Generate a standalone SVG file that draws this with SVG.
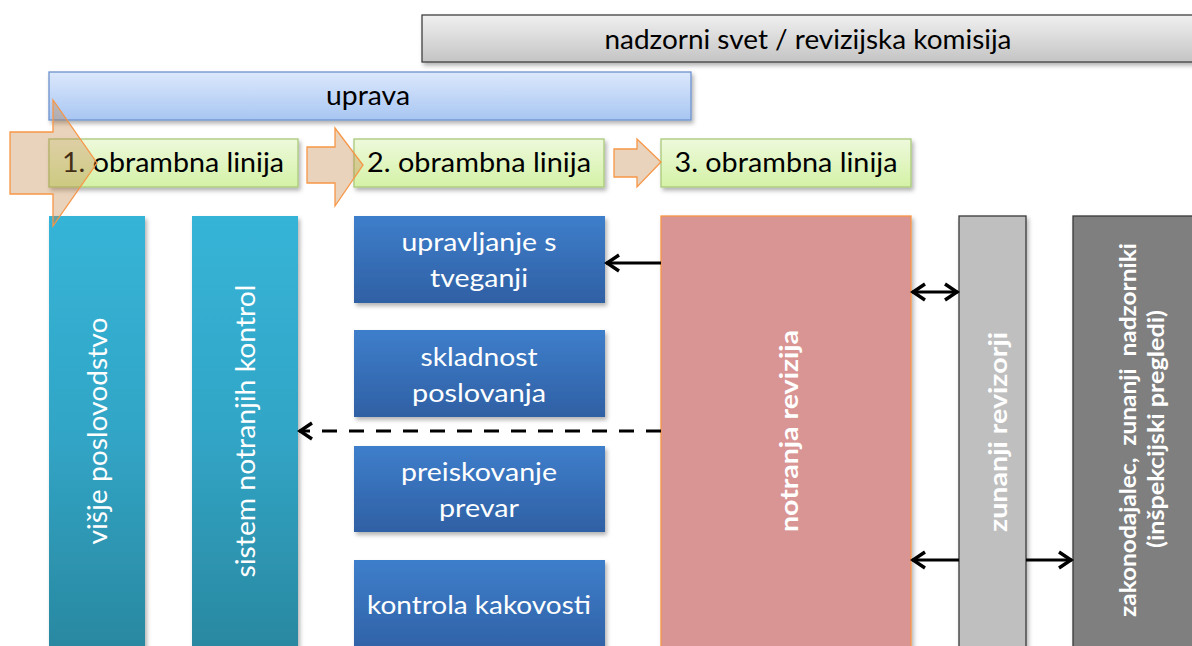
<svg xmlns="http://www.w3.org/2000/svg" width="1192" height="646" viewBox="0 0 1192 646">
<defs>
<style>
.t{font-family:Lato,"Open Sans","Liberation Sans",sans-serif;}
.dk{fill:#000;font-size:26px;}
.wh{fill:#fff;font-size:25px;}
.wb{fill:#fff;font-size:22px;font-weight:bold;}
.conn{stroke:#000;stroke-width:3;fill:none;}
.blk{stroke:#F79646;stroke-width:1.3;fill:#C0803F;fill-opacity:0.35;}
</style>
<linearGradient id="gGray" x1="0" y1="0" x2="0" y2="1"><stop offset="0" stop-color="#F0F0F0"/><stop offset="1" stop-color="#C4C4C4"/></linearGradient>
<linearGradient id="gBlueL" x1="0" y1="0" x2="0" y2="1"><stop offset="0" stop-color="#DCE8FC"/><stop offset="1" stop-color="#A8C6F2"/></linearGradient>
<linearGradient id="gGreen" x1="0" y1="0" x2="0" y2="1"><stop offset="0" stop-color="#EEF9DC"/><stop offset="1" stop-color="#D4F2A6"/></linearGradient>
<linearGradient id="gTeal" x1="0" y1="0" x2="0" y2="1"><stop offset="0" stop-color="#36B4D7"/><stop offset="0.5" stop-color="#31A5C6"/><stop offset="1" stop-color="#2A879F"/></linearGradient>
<linearGradient id="gBlue" x1="0" y1="0" x2="0" y2="1"><stop offset="0" stop-color="#3E7ECB"/><stop offset="1" stop-color="#2F60A4"/></linearGradient>
<filter id="sh" x="-10%" y="-10%" width="130%" height="130%"><feDropShadow dx="2" dy="3" stdDeviation="2" flood-color="#000" flood-opacity="0.3"/></filter>
<marker id="ah" viewBox="0 0 18 20" refX="16" refY="10" markerWidth="18" markerHeight="20" markerUnits="userSpaceOnUse" orient="auto-start-reverse">
<path d="M3,2 L15,10 L3,18" fill="none" stroke="#000" stroke-width="3.4" stroke-linejoin="miter"/>
</marker>
</defs>
<rect width="1192" height="646" fill="#fff"/>

<g id="nadzorni">
<rect x="422" y="15" width="790" height="47" fill="url(#gGray)" stroke="#404040" stroke-width="1.3" filter="url(#sh)"/>
<text class="t dk" x="808" y="49" text-anchor="middle" textLength="407" lengthAdjust="spacingAndGlyphs" style="font-size:27px">nadzorni svet / revizijska komisija</text>
</g>

<g id="uprava">
<rect x="49" y="72" width="642" height="48" fill="url(#gBlueL)" stroke="#6E93CC" stroke-width="1.3" filter="url(#sh)"/>
<text class="t dk" x="368" y="105" text-anchor="middle" textLength="84" lengthAdjust="spacingAndGlyphs">uprava</text>
</g>

<g id="linija1">
<rect x="49" y="139" width="249" height="48" fill="url(#gGreen)" stroke="#A9C97A" stroke-width="1.3" filter="url(#sh)"/>
<text class="t dk" x="173" y="172" text-anchor="middle" textLength="222" lengthAdjust="spacingAndGlyphs">1. obrambna linija</text>
</g>
<g id="linija2">
<rect x="354" y="139" width="250" height="48" fill="url(#gGreen)" stroke="#A9C97A" stroke-width="1.3" filter="url(#sh)"/>
<text class="t dk" x="479" y="172" text-anchor="middle" textLength="224" lengthAdjust="spacingAndGlyphs">2. obrambna linija</text>
</g>
<g id="linija3">
<rect x="661" y="139" width="250" height="48" fill="url(#gGreen)" stroke="#A9C97A" stroke-width="1.3" filter="url(#sh)"/>
<text class="t dk" x="786" y="172" text-anchor="middle" textLength="223" lengthAdjust="spacingAndGlyphs">3. obrambna linija</text>
</g>

<g id="visje">
<rect x="49" y="216" width="96" height="440" fill="url(#gTeal)" filter="url(#sh)"/>
<text class="t wh" transform="translate(97,431) rotate(-90)" text-anchor="middle" dominant-baseline="central" textLength="227" lengthAdjust="spacingAndGlyphs" style="font-size:26px">višje poslovodstvo</text>
</g>

<g id="sistem">
<rect x="192" y="216" width="106" height="440" fill="url(#gTeal)" filter="url(#sh)"/>
<text class="t wh" transform="translate(245,431) rotate(-90)" text-anchor="middle" dominant-baseline="central" textLength="293" lengthAdjust="spacingAndGlyphs" style="font-size:26px">sistem notranjih kontrol</text>
</g>

<g id="upravljanje">
<rect x="354" y="216" width="251" height="87" fill="url(#gBlue)" filter="url(#sh)"/>
<text class="t wh" x="479" y="251" text-anchor="middle" textLength="155" lengthAdjust="spacingAndGlyphs">upravljanje s</text>
<text class="t wh" x="479" y="287" text-anchor="middle" textLength="98" lengthAdjust="spacingAndGlyphs">tveganji</text>
</g>
<g id="skladnost">
<rect x="354" y="330" width="251" height="87" fill="url(#gBlue)" filter="url(#sh)"/>
<text class="t wh" x="479" y="366" text-anchor="middle" textLength="117" lengthAdjust="spacingAndGlyphs">skladnost</text>
<text class="t wh" x="479" y="402" text-anchor="middle" textLength="134" lengthAdjust="spacingAndGlyphs">poslovanja</text>
</g>
<g id="preiskovanje">
<rect x="354" y="446" width="251" height="86" fill="url(#gBlue)" filter="url(#sh)"/>
<text class="t wh" x="479" y="481" text-anchor="middle" textLength="156" lengthAdjust="spacingAndGlyphs">preiskovanje</text>
<text class="t wh" x="479" y="517" text-anchor="middle" textLength="80" lengthAdjust="spacingAndGlyphs">prevar</text>
</g>
<g id="kontrola">
<rect x="354" y="560" width="251" height="96" fill="url(#gBlue)" filter="url(#sh)"/>
<text class="t wh" x="479" y="614" text-anchor="middle" textLength="224" lengthAdjust="spacingAndGlyphs">kontrola kakovosti</text>
</g>

<g id="notranja">
<rect x="661" y="216" width="250" height="440" fill="#D99594" stroke="#F79646" stroke-width="1.3" filter="url(#sh)"/>
<text class="t wb" transform="translate(788,431) rotate(-90)" text-anchor="middle" dominant-baseline="central" textLength="202" lengthAdjust="spacingAndGlyphs" style="font-size:25px">notranja revizija</text>
</g>

<g id="zunanji">
<rect x="959" y="216" width="67" height="440" fill="#BFBFBF" stroke="#3A3A3A" stroke-width="1.3" filter="url(#sh)"/>
<text class="t wb" transform="translate(997,432) rotate(-90)" text-anchor="middle" dominant-baseline="central" textLength="200" lengthAdjust="spacingAndGlyphs" style="font-size:25px">zunanji revizorji</text>
</g>

<g id="zakonodajalec">
<rect x="1073" y="216" width="140" height="440" fill="#7F7F7F" stroke="#3A3A3A" stroke-width="1.3" filter="url(#sh)"/>
<text class="t wb" transform="translate(1127,430) rotate(-90)" text-anchor="middle" dominant-baseline="central" textLength="374" lengthAdjust="spacingAndGlyphs" xml:space="preserve" style="font-size:23px">zakonodajalec,  zunanji  nadzorniki</text>
<text class="t wb" transform="translate(1155,429) rotate(-90)" text-anchor="middle" dominant-baseline="central" textLength="238" lengthAdjust="spacingAndGlyphs" style="font-size:23px">(inšpekcijski pregledi)</text>
</g>

<g id="block-arrows">
<path class="blk" d="M307,147 H335 V128 L363,165 L335,206 V183 H307 Z"/>
<path class="blk" d="M614,149 H637 V139 L661,162 L637,187 V177 H614 Z"/>
<path class="blk" d="M10,132 H53 V100 L97,163 L53,226 V194 H10 Z"/>
</g>

<g id="connectors">
<line class="conn" x1="661" y1="263" x2="606" y2="263" marker-end="url(#ah)"/>
<line class="conn" x1="661" y1="431" x2="299" y2="431" stroke-dasharray="15,12" marker-end="url(#ah)"/>
<line class="conn" x1="912" y1="292" x2="958" y2="292" marker-start="url(#ah)" marker-end="url(#ah)"/>
<line class="conn" x1="959" y1="560" x2="912" y2="560" marker-end="url(#ah)"/>
<line class="conn" x1="1026" y1="560" x2="1072" y2="560" marker-end="url(#ah)"/>
</g>
</svg>
